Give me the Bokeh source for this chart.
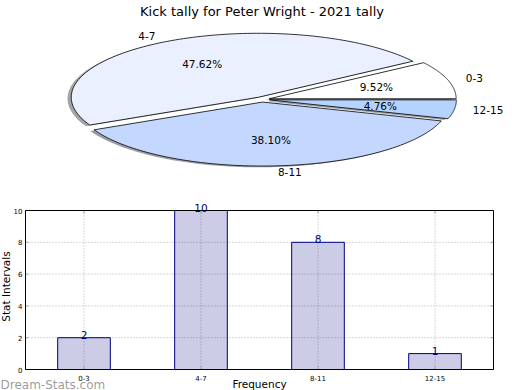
import numpy as np
from bokeh.plotting import figure
from bokeh.models import Range1d, ColumnDataSource, FactorRange, BoxAnnotation
from bokeh.core.properties import value
from bokeh.embed import file_html
from bokeh.resources import INLINE

# ---- data ----
categories = ["0-3", "4-7", "8-11", "12-15"]
counts = [2, 10, 8, 1]
pie_colors = ["#ffffff", "#eaf0ff", "#c4d8ff", "#b4d4ff"]
y_ticks = [0, 2, 4, 6, 8, 10]
y_tick_labels = ["0", "2", "4", "6", "8", "10"]
title_text = "Kick tally for Peter Wright - 2021 tally"
watermark = "Dream-Stats.com"
x_label = "Frequency"
y_label = "Stat Intervals"

FONT = "DejaVu Sans"

# =========================== pie ===========================
W1, H1 = 512, 186
RX, RY = 187.0, 64.0          # pixel radii of the ellipse
CX, CY = 261.5, 99.0          # pixel centre in the canvas (from top-left)
xr = Range1d(-CX / RX, (W1 - CX) / RX)
yr = Range1d(-(H1 - CY) / RY, CY / RY)

p1 = figure(width=W1, height=H1, x_range=xr, y_range=yr, min_border=0,
            toolbar_location=None, output_backend="svg",
            x_axis_location=None, y_axis_location=None)
p1.grid.visible = False
p1.outline_line_color = None

total = float(sum(counts))
fracs = np.array(counts, dtype=float) / total
edges = np.concatenate([[0.0], np.cumsum(fracs)]) * 2 * np.pi
explode = 0.04
shadow_off = -0.02

wx, wy, sx, sy, sh_cols = [], [], [], [], []
lab_x, lab_y, lab_t, lab_al = [], [], [], []
pct_x, pct_y, pct_t = [], [], []
for i in range(len(counts)):
    t0, t1 = edges[i], edges[i + 1]
    tm = 0.5 * (t0 + t1)
    cx, cy = explode * np.cos(tm), explode * np.sin(tm)
    ts = np.linspace(t0, t1, 120)
    xs = np.concatenate([[cx], cx + np.cos(ts)])
    ys = np.concatenate([[cy], cy + np.sin(ts)])
    wx.append(list(xs)); wy.append(list(ys))
    sx.append(list(xs + shadow_off)); sy.append(list(ys + shadow_off))
    h = pie_colors[i].lstrip("#")
    rgb = [int(h[k:k + 2], 16) for k in (0, 2, 4)]
    sh_cols.append("#%02x%02x%02x" % tuple(int(0.3 * c) for c in rgb))
    lx = cx + 1.1 * np.cos(tm)
    ly = cy + 1.1 * np.sin(tm)
    lab_x.append(lx); lab_y.append(ly); lab_t.append(categories[i])
    lab_al.append("left" if lx > 0 else "right")
    pct_x.append(cx + 0.6 * np.cos(tm)); pct_y.append(cy + 0.6 * np.sin(tm))
    pct_t.append("%.2f%%" % (100 * fracs[i]))

p1.patches(xs=sx, ys=sy, fill_color=sh_cols, fill_alpha=0.5, line_color=None)
p1.patches(xs=wx, ys=wy, fill_color=pie_colors, line_color="black", line_width=0.8)

p1.text(x=lab_x, y=lab_y, text=lab_t, text_align=lab_al, text_baseline="middle",
        text_font=value(FONT), text_font_size="10.5px", text_color="black")
p1.text(x=pct_x, y=pct_y, text=pct_t, text_align="center", text_baseline="middle",
        text_font=value(FONT), text_font_size="10.5px", text_color="black")
p1.text(x=[0.0], y=[yr.end], text=[title_text], text_align="center", text_baseline="top",
        y_offset=3, text_font=value(FONT), text_font_size="13px", text_color="black")

# =========================== bars ===========================
W2, H2 = 518, 390 - H1
FL, FR = 25.0, 493.0            # plot box left/right (canvas px)
PY0, PY10 = 369.0 - H1, 210.0 - H1   # canvas y of value 0 and value 10
ppu = (PY0 - PY10) / 10.0
y_bot = -(H2 - PY0) / ppu
y_top = 10.0 + PY10 / ppu
ncat = len(categories)
slot = (FR - FL) / ncat
pad = (W2 - (FR - FL)) / slot / 2.0   # padding applied on each side


def at_x(px):
    """canvas x pixel -> synthetic categorical coordinate"""
    return (px - FL) / slot


def at_y(py):
    """canvas y pixel (from top of lower canvas) -> data y"""
    return (PY0 - py) / ppu


p2 = figure(width=W2, height=H2,
            x_range=FactorRange(*categories, range_padding=pad, range_padding_units="absolute"),
            y_range=Range1d(y_bot, y_top), min_border=0,
            toolbar_location=None, output_backend="svg",
            x_axis_location=None, y_axis_location=None)
p2.grid.visible = False
p2.outline_line_color = None

GRID = dict(line_color="#b0b0b0", line_dash="1 2", line_width=1)
ny = len(y_ticks)
# grid lines
p2.segment(x0=categories, x1=categories, y0=[0] * ncat, y1=[10] * ncat, **GRID)
p2.segment(x0=[0.0] * ny, x1=[float(ncat)] * ny, y0=y_ticks, y1=y_ticks, **GRID)

# bars
src = ColumnDataSource(dict(cat=categories, val=counts, txt=[str(c) for c in counts]))
p2.vbar(x="cat", top="val", width=0.45, source=src, fill_color="navy", fill_alpha=0.2,
        line_color="navy", line_width=1)

# ticks (inside, grey)
TK = dict(line_color="#a0a0a0", line_width=1)
tl = 3.0
p2.segment(x0=[0.0] * ny, x1=[tl / slot] * ny, y0=y_ticks, y1=y_ticks, **TK)
p2.segment(x0=[ncat - tl / slot] * ny, x1=[float(ncat)] * ny, y0=y_ticks, y1=y_ticks, **TK)
p2.segment(x0=categories, x1=categories, y0=[0] * ncat, y1=[tl / ppu] * ncat, **TK)
p2.segment(x0=categories, x1=categories, y0=[10] * ncat, y1=[10 - tl / ppu] * ncat, **TK)

# plot box
p2.add_layout(BoxAnnotation(left=0.0, right=float(ncat), bottom=0, top=10,
                            fill_color=None, fill_alpha=0, line_color="black",
                            line_width=1, line_alpha=1))

# value labels above bars
p2.text(x="cat", y="val", text="txt", source=src, text_align="center",
        text_baseline="bottom", y_offset=1, text_color="navy",
        text_font=value(FONT), text_font_size="10.5px")

# y tick labels and axis label
p2.text(x=[at_x(FL - 3)] * ny, y=y_ticks, text=y_tick_labels,
        text_align="right", text_baseline="middle", text_font=value(FONT),
        text_font_size="7px", text_color="black")
p2.text(x=[at_x(5.0)], y=[at_y(286.0 - H1)], text=[y_label],
        angle=np.pi / 2, text_align="center", text_baseline="middle",
        text_font=value(FONT), text_font_size="10.5px", text_color="black")

# watermark
p2.text(x=[at_x(0.0)], y=[at_y(384.0 - H1)], text=[watermark],
        text_align="left", text_baseline="alphabetic", text_font=value(FONT),
        text_font_size="12px", text_color="#8a8a8a", text_alpha=0.85)

# x tick labels and axis label
p2.text(x=categories, y=[0] * ncat, text=categories, y_offset=5,
        text_align="center", text_baseline="top", text_font=value(FONT),
        text_font_size="7px", text_color="black")
p2.text(x=[at_x((FL + FR) / 2)], y=[at_y(377.0 - H1)], text=[x_label],
        text_align="center", text_baseline="top",
        text_font=value(FONT), text_font_size="10.5px", text_color="black")

open("out.html", "w").write(file_html([p1, p2], INLINE))
